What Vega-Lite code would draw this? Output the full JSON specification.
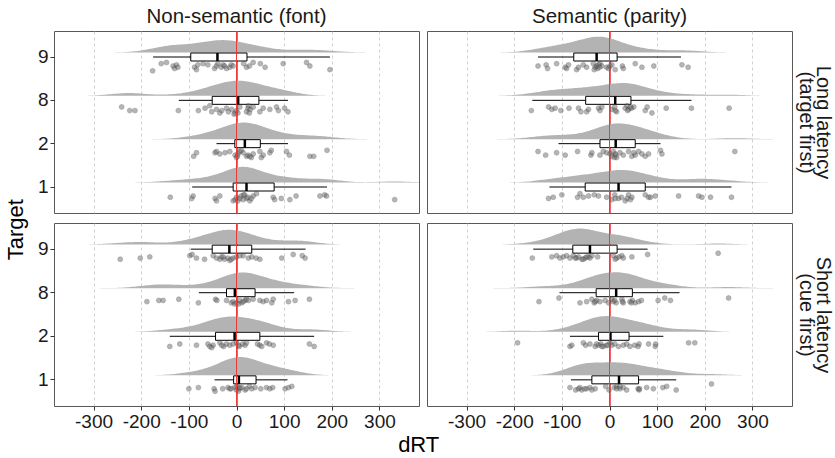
{
"$schema": "https://vega.github.io/schema/vega-lite/v6.json",
"padding": {"left": 4, "top": 6, "right": 0, "bottom": 0},
"config": {
  "font": "Liberation Sans",
  "view": {"stroke": "#595959", "strokeWidth": 1},
  "axisX": {"values": [-300,-200,-100,0,100,200,300], "grid": true, "gridDash": [3,3], "gridColor": "#c4c4c4", "gridWidth": 0.8, "domain": false, "tickColor": "#333333", "tickSize": 4, "labelFontSize": 19, "labelColor": "#1a1a1a", "labelPadding": 2},
  "axisY": {"grid": false, "domain": false, "tickColor": "#333333", "tickSize": 4, "labelFontSize": 19, "labelColor": "#1a1a1a", "labelPadding": 2, "labelAngle": 0},
  "title": {"fontSize": 20.5, "fontWeight": "normal", "color": "#1a1a1a", "offset": 4, "frame": "group"}
},
"data": {"values": [
{"t":"N","l":"L","g":9,"q1":-96,"md":-40,"q3":22,"lo":-175,"hi":196},
{"t":"N","l":"L","g":8,"q1":-51,"md":3.5,"q3":47,"lo":-121,"hi":108},
{"t":"N","l":"L","g":2,"q1":-3.5,"md":17.5,"q3":50,"lo":-42,"hi":108},
{"t":"N","l":"L","g":1,"q1":-7,"md":21,"q3":79,"lo":-93,"hi":190},
{"t":"S","l":"L","g":9,"q1":-75,"md":-27,"q3":16,"lo":-150,"hi":150},
{"t":"S","l":"L","g":8,"q1":-50,"md":12,"q3":45,"lo":-162,"hi":172},
{"t":"S","l":"L","g":2,"q1":-20,"md":13,"q3":54,"lo":-107,"hi":107},
{"t":"S","l":"L","g":1,"q1":-51,"md":19,"q3":75,"lo":-126,"hi":256},
{"t":"N","l":"S","g":9,"q1":-51,"md":-15,"q3":32,"lo":-96,"hi":145},
{"t":"N","l":"S","g":8,"q1":-21,"md":-3.5,"q3":39,"lo":-79,"hi":121},
{"t":"N","l":"S","g":2,"q1":-44,"md":-4,"q3":49,"lo":-140,"hi":163},
{"t":"N","l":"S","g":1,"q1":-6,"md":5,"q3":41,"lo":-46,"hi":107},
{"t":"S","l":"S","g":9,"q1":-77,"md":-41,"q3":16,"lo":-160,"hi":80},
{"t":"S","l":"S","g":8,"q1":-28,"md":14,"q3":48,"lo":-105,"hi":147},
{"t":"S","l":"S","g":2,"q1":-23,"md":2,"q3":41,"lo":-83,"hi":113},
{"t":"S","l":"S","g":1,"q1":-37,"md":20,"q3":61,"lo":-81,"hi":140},

{"t":"N","l":"L","g":9,"v":-176,"j":0.9},{"t":"N","l":"L","g":9,"v":-158,"j":0.3},{"t":"N","l":"L","g":9,"v":-147,"j":0.2},{"t":"N","l":"L","g":9,"v":-133,"j":0.5},{"t":"N","l":"L","g":9,"v":-130,"j":0.7},{"t":"N","l":"L","g":9,"v":-126,"j":0.4},{"t":"N","l":"L","g":9,"v":-123,"j":0.6},{"t":"N","l":"L","g":9,"v":-88,"j":0.6},{"t":"N","l":"L","g":9,"v":-84,"j":0.8},{"t":"N","l":"L","g":9,"v":-81,"j":0.4},{"t":"N","l":"L","g":9,"v":-70,"j":0.3},{"t":"N","l":"L","g":9,"v":-60,"j":0.4},{"t":"N","l":"L","g":9,"v":-46,"j":0.7},{"t":"N","l":"L","g":9,"v":-42,"j":0.5},{"t":"N","l":"L","g":9,"v":-39,"j":0.3},{"t":"N","l":"L","g":9,"v":-32,"j":0.6},{"t":"N","l":"L","g":9,"v":-28,"j":0.4},{"t":"N","l":"L","g":9,"v":-25,"j":0.5},{"t":"N","l":"L","g":9,"v":-21,"j":0.7},{"t":"N","l":"L","g":9,"v":-14,"j":0.6},{"t":"N","l":"L","g":9,"v":-11,"j":0.4},{"t":"N","l":"L","g":9,"v":-7,"j":0.5},{"t":"N","l":"L","g":9,"v":15,"j":0.3},{"t":"N","l":"L","g":9,"v":21,"j":0.6},{"t":"N","l":"L","g":9,"v":27,"j":0.5},{"t":"N","l":"L","g":9,"v":35,"j":0.2},{"t":"N","l":"L","g":9,"v":50,"j":0.3},{"t":"N","l":"L","g":9,"v":60,"j":0.6},{"t":"N","l":"L","g":9,"v":98,"j":0.3},{"t":"N","l":"L","g":9,"v":147,"j":0.2},{"t":"N","l":"L","g":9,"v":154,"j":0.5},{"t":"N","l":"L","g":9,"v":196,"j":0.8},
{"t":"N","l":"L","g":8,"v":-241,"j":0.3},{"t":"N","l":"L","g":8,"v":-224,"j":0.6},{"t":"N","l":"L","g":8,"v":-213,"j":0.6},{"t":"N","l":"L","g":8,"v":-122,"j":0.6},{"t":"N","l":"L","g":8,"v":-80,"j":0.6},{"t":"N","l":"L","g":8,"v":-66,"j":0.4},{"t":"N","l":"L","g":8,"v":-56,"j":0.2},{"t":"N","l":"L","g":8,"v":-52,"j":0.7},{"t":"N","l":"L","g":8,"v":-42,"j":0.5},{"t":"N","l":"L","g":8,"v":-35,"j":0.8},{"t":"N","l":"L","g":8,"v":-21,"j":0.4},{"t":"N","l":"L","g":8,"v":-17,"j":0.7},{"t":"N","l":"L","g":8,"v":-10,"j":0.5},{"t":"N","l":"L","g":8,"v":-3,"j":0.8},{"t":"N","l":"L","g":8,"v":0,"j":0.6},{"t":"N","l":"L","g":8,"v":3,"j":0.8},{"t":"N","l":"L","g":8,"v":7,"j":0.3},{"t":"N","l":"L","g":8,"v":21,"j":0.7},{"t":"N","l":"L","g":8,"v":24,"j":0.4},{"t":"N","l":"L","g":8,"v":27,"j":0.8},{"t":"N","l":"L","g":8,"v":29,"j":0.5},{"t":"N","l":"L","g":8,"v":35,"j":0.3},{"t":"N","l":"L","g":8,"v":49,"j":0.7},{"t":"N","l":"L","g":8,"v":56,"j":0.4},{"t":"N","l":"L","g":8,"v":70,"j":0.5},{"t":"N","l":"L","g":8,"v":84,"j":0.3},{"t":"N","l":"L","g":8,"v":88,"j":0.6},{"t":"N","l":"L","g":8,"v":101,"j":0.4},{"t":"N","l":"L","g":8,"v":108,"j":0.7},{"t":"N","l":"L","g":8,"v":-31,"j":0.6},{"t":"N","l":"L","g":8,"v":-5,"j":0.9},{"t":"N","l":"L","g":8,"v":25,"j":0.2},
{"t":"N","l":"L","g":2,"v":-90,"j":0.8},{"t":"N","l":"L","g":2,"v":-84,"j":0.5},{"t":"N","l":"L","g":2,"v":-45,"j":0.5},{"t":"N","l":"L","g":2,"v":-42,"j":0.4},{"t":"N","l":"L","g":2,"v":-35,"j":0.6},{"t":"N","l":"L","g":2,"v":-24,"j":0.5},{"t":"N","l":"L","g":2,"v":-14,"j":0.4},{"t":"N","l":"L","g":2,"v":-3,"j":0.7},{"t":"N","l":"L","g":2,"v":0,"j":0.9},{"t":"N","l":"L","g":2,"v":3,"j":0.6},{"t":"N","l":"L","g":2,"v":7,"j":0.4},{"t":"N","l":"L","g":2,"v":14,"j":0.5},{"t":"N","l":"L","g":2,"v":21,"j":0.8},{"t":"N","l":"L","g":2,"v":24,"j":0.7},{"t":"N","l":"L","g":2,"v":31,"j":0.9},{"t":"N","l":"L","g":2,"v":35,"j":0.6},{"t":"N","l":"L","g":2,"v":49,"j":0.4},{"t":"N","l":"L","g":2,"v":52,"j":0.9},{"t":"N","l":"L","g":2,"v":56,"j":0.7},{"t":"N","l":"L","g":2,"v":70,"j":0.5},{"t":"N","l":"L","g":2,"v":73,"j":0.3},{"t":"N","l":"L","g":2,"v":105,"j":0.4},{"t":"N","l":"L","g":2,"v":111,"j":0.7},{"t":"N","l":"L","g":2,"v":154,"j":0.8},{"t":"N","l":"L","g":2,"v":162,"j":0.8},{"t":"N","l":"L","g":2,"v":190,"j":0.3},{"t":"N","l":"L","g":2,"v":2,"j":0.8},{"t":"N","l":"L","g":2,"v":10,"j":0.3},{"t":"N","l":"L","g":2,"v":28,"j":0.8},
{"t":"N","l":"L","g":1,"v":-139,"j":0.6},{"t":"N","l":"L","g":1,"v":-94,"j":0.7},{"t":"N","l":"L","g":1,"v":-91,"j":0.5},{"t":"N","l":"L","g":1,"v":-45,"j":0.7},{"t":"N","l":"L","g":1,"v":-42,"j":0.9},{"t":"N","l":"L","g":1,"v":-35,"j":0.5},{"t":"N","l":"L","g":1,"v":-7,"j":0.9},{"t":"N","l":"L","g":1,"v":-3,"j":0.8},{"t":"N","l":"L","g":1,"v":0,"j":0.6},{"t":"N","l":"L","g":1,"v":3,"j":0.9},{"t":"N","l":"L","g":1,"v":7,"j":0.7},{"t":"N","l":"L","g":1,"v":10,"j":0.5},{"t":"N","l":"L","g":1,"v":17,"j":0.4},{"t":"N","l":"L","g":1,"v":21,"j":0.7},{"t":"N","l":"L","g":1,"v":24,"j":0.6},{"t":"N","l":"L","g":1,"v":28,"j":0.9},{"t":"N","l":"L","g":1,"v":35,"j":0.5},{"t":"N","l":"L","g":1,"v":42,"j":0.3},{"t":"N","l":"L","g":1,"v":77,"j":0.6},{"t":"N","l":"L","g":1,"v":80,"j":0.8},{"t":"N","l":"L","g":1,"v":94,"j":0.7},{"t":"N","l":"L","g":1,"v":112,"j":0.8},{"t":"N","l":"L","g":1,"v":125,"j":0.5},{"t":"N","l":"L","g":1,"v":175,"j":0.5},{"t":"N","l":"L","g":1,"v":185,"j":0.4},{"t":"N","l":"L","g":1,"v":189,"j":0.5},{"t":"N","l":"L","g":1,"v":332,"j":0.8},{"t":"N","l":"L","g":1,"v":14,"j":0.8},{"t":"N","l":"L","g":1,"v":15,"j":0.4},{"t":"N","l":"L","g":1,"v":31,"j":0.7},

{"t":"S","l":"L","g":9,"v":-150,"j":0.5},{"t":"S","l":"L","g":9,"v":-133,"j":0.4},{"t":"S","l":"L","g":9,"v":-130,"j":0.7},{"t":"S","l":"L","g":9,"v":-111,"j":0.3},{"t":"S","l":"L","g":9,"v":-93,"j":0.6},{"t":"S","l":"L","g":9,"v":-90,"j":0.7},{"t":"S","l":"L","g":9,"v":-86,"j":0.4},{"t":"S","l":"L","g":9,"v":-69,"j":0.8},{"t":"S","l":"L","g":9,"v":-65,"j":0.6},{"t":"S","l":"L","g":9,"v":-55,"j":0.4},{"t":"S","l":"L","g":9,"v":-48,"j":0.6},{"t":"S","l":"L","g":9,"v":-34,"j":0.3},{"t":"S","l":"L","g":9,"v":-30,"j":0.6},{"t":"S","l":"L","g":9,"v":-27,"j":0.5},{"t":"S","l":"L","g":9,"v":-25,"j":0.7},{"t":"S","l":"L","g":9,"v":-20,"j":0.3},{"t":"S","l":"L","g":9,"v":-16,"j":0.5},{"t":"S","l":"L","g":9,"v":-6,"j":0.6},{"t":"S","l":"L","g":9,"v":-2,"j":0.7},{"t":"S","l":"L","g":9,"v":1,"j":0.5},{"t":"S","l":"L","g":9,"v":5,"j":0.4},{"t":"S","l":"L","g":9,"v":12,"j":0.8},{"t":"S","l":"L","g":9,"v":27,"j":0.5},{"t":"S","l":"L","g":9,"v":54,"j":0.3},{"t":"S","l":"L","g":9,"v":68,"j":0.6},{"t":"S","l":"L","g":9,"v":93,"j":0.5},{"t":"S","l":"L","g":9,"v":152,"j":0.4},{"t":"S","l":"L","g":9,"v":165,"j":0.6},{"t":"S","l":"L","g":9,"v":-32,"j":0.8},{"t":"S","l":"L","g":9,"v":-23,"j":0.4},{"t":"S","l":"L","g":9,"v":-21,"j":0.6},{"t":"S","l":"L","g":9,"v":29,"j":0.7},
{"t":"S","l":"L","g":8,"v":-164,"j":0.6},{"t":"S","l":"L","g":8,"v":-128,"j":0.3},{"t":"S","l":"L","g":8,"v":-121,"j":0.5},{"t":"S","l":"L","g":8,"v":-114,"j":0.4},{"t":"S","l":"L","g":8,"v":-102,"j":0.6},{"t":"S","l":"L","g":8,"v":-85,"j":0.4},{"t":"S","l":"L","g":8,"v":-65,"j":0.4},{"t":"S","l":"L","g":8,"v":-60,"j":0.7},{"t":"S","l":"L","g":8,"v":-48,"j":0.7},{"t":"S","l":"L","g":8,"v":-44,"j":0.5},{"t":"S","l":"L","g":8,"v":-23,"j":0.4},{"t":"S","l":"L","g":8,"v":-20,"j":0.6},{"t":"S","l":"L","g":8,"v":-16,"j":0.3},{"t":"S","l":"L","g":8,"v":5,"j":0.5},{"t":"S","l":"L","g":8,"v":11,"j":0.3},{"t":"S","l":"L","g":8,"v":15,"j":0.7},{"t":"S","l":"L","g":8,"v":33,"j":0.4},{"t":"S","l":"L","g":8,"v":37,"j":0.2},{"t":"S","l":"L","g":8,"v":40,"j":0.5},{"t":"S","l":"L","g":8,"v":46,"j":0.4},{"t":"S","l":"L","g":8,"v":51,"j":0.3},{"t":"S","l":"L","g":8,"v":75,"j":0.6},{"t":"S","l":"L","g":8,"v":79,"j":0.3},{"t":"S","l":"L","g":8,"v":89,"j":0.8},{"t":"S","l":"L","g":8,"v":119,"j":0.4},{"t":"S","l":"L","g":8,"v":172,"j":0.4},{"t":"S","l":"L","g":8,"v":251,"j":0.4},{"t":"S","l":"L","g":8,"v":12,"j":0.6},{"t":"S","l":"L","g":8,"v":38,"j":0.6},{"t":"S","l":"L","g":8,"v":44,"j":0.3},
{"t":"S","l":"L","g":2,"v":-150,"j":0.4},{"t":"S","l":"L","g":2,"v":-134,"j":0.7},{"t":"S","l":"L","g":2,"v":-111,"j":0.5},{"t":"S","l":"L","g":2,"v":-93,"j":0.7},{"t":"S","l":"L","g":2,"v":-67,"j":0.4},{"t":"S","l":"L","g":2,"v":-39,"j":0.7},{"t":"S","l":"L","g":2,"v":-37,"j":0.5},{"t":"S","l":"L","g":2,"v":-20,"j":0.7},{"t":"S","l":"L","g":2,"v":-13,"j":0.4},{"t":"S","l":"L","g":2,"v":-6,"j":0.5},{"t":"S","l":"L","g":2,"v":1,"j":0.6},{"t":"S","l":"L","g":2,"v":5,"j":0.8},{"t":"S","l":"L","g":2,"v":8,"j":0.4},{"t":"S","l":"L","g":2,"v":12,"j":0.6},{"t":"S","l":"L","g":2,"v":15,"j":0.9},{"t":"S","l":"L","g":2,"v":22,"j":0.5},{"t":"S","l":"L","g":2,"v":29,"j":0.7},{"t":"S","l":"L","g":2,"v":40,"j":0.4},{"t":"S","l":"L","g":2,"v":47,"j":0.8},{"t":"S","l":"L","g":2,"v":54,"j":0.7},{"t":"S","l":"L","g":2,"v":61,"j":0.4},{"t":"S","l":"L","g":2,"v":68,"j":0.6},{"t":"S","l":"L","g":2,"v":75,"j":0.8},{"t":"S","l":"L","g":2,"v":82,"j":0.6},{"t":"S","l":"L","g":2,"v":107,"j":0.3},{"t":"S","l":"L","g":2,"v":110,"j":0.6},{"t":"S","l":"L","g":2,"v":263,"j":0.4},{"t":"S","l":"L","g":2,"v":10,"j":0.9},{"t":"S","l":"L","g":2,"v":13,"j":0.7},{"t":"S","l":"L","g":2,"v":51,"j":0.5},
{"t":"S","l":"L","g":1,"v":-128,"j":0.7},{"t":"S","l":"L","g":1,"v":-118,"j":0.6},{"t":"S","l":"L","g":1,"v":-100,"j":0.4},{"t":"S","l":"L","g":1,"v":-67,"j":0.6},{"t":"S","l":"L","g":1,"v":-62,"j":0.3},{"t":"S","l":"L","g":1,"v":-55,"j":0.6},{"t":"S","l":"L","g":1,"v":-44,"j":0.5},{"t":"S","l":"L","g":1,"v":-32,"j":0.4},{"t":"S","l":"L","g":1,"v":-23,"j":0.5},{"t":"S","l":"L","g":1,"v":-6,"j":0.6},{"t":"S","l":"L","g":1,"v":5,"j":0.8},{"t":"S","l":"L","g":1,"v":11,"j":0.4},{"t":"S","l":"L","g":1,"v":19,"j":0.7},{"t":"S","l":"L","g":1,"v":25,"j":0.6},{"t":"S","l":"L","g":1,"v":33,"j":0.9},{"t":"S","l":"L","g":1,"v":40,"j":0.4},{"t":"S","l":"L","g":1,"v":47,"j":0.6},{"t":"S","l":"L","g":1,"v":75,"j":0.4},{"t":"S","l":"L","g":1,"v":82,"j":0.6},{"t":"S","l":"L","g":1,"v":96,"j":0.5},{"t":"S","l":"L","g":1,"v":145,"j":0.5},{"t":"S","l":"L","g":1,"v":187,"j":0.5},{"t":"S","l":"L","g":1,"v":194,"j":0.6},{"t":"S","l":"L","g":1,"v":212,"j":0.6},{"t":"S","l":"L","g":1,"v":256,"j":0.6},{"t":"S","l":"L","g":1,"v":12,"j":0.7},{"t":"S","l":"L","g":1,"v":37,"j":0.7},{"t":"S","l":"L","g":1,"v":44,"j":0.8},{"t":"S","l":"L","g":1,"v":86,"j":0.6},

{"t":"N","l":"S","g":9,"v":-244,"j":0.6},{"t":"N","l":"S","g":9,"v":-202,"j":0.5},{"t":"N","l":"S","g":9,"v":-182,"j":0.4},{"t":"N","l":"S","g":9,"v":-98,"j":0.3},{"t":"N","l":"S","g":9,"v":-93,"j":0.2},{"t":"N","l":"S","g":9,"v":-84,"j":0.5},{"t":"N","l":"S","g":9,"v":-67,"j":0.6},{"t":"N","l":"S","g":9,"v":-49,"j":0.3},{"t":"N","l":"S","g":9,"v":-42,"j":0.5},{"t":"N","l":"S","g":9,"v":-32,"j":0.4},{"t":"N","l":"S","g":9,"v":-25,"j":0.6},{"t":"N","l":"S","g":9,"v":-18,"j":0.5},{"t":"N","l":"S","g":9,"v":-14,"j":0.7},{"t":"N","l":"S","g":9,"v":-7,"j":0.5},{"t":"N","l":"S","g":9,"v":0,"j":0.4},{"t":"N","l":"S","g":9,"v":14,"j":0.3},{"t":"N","l":"S","g":9,"v":25,"j":0.5},{"t":"N","l":"S","g":9,"v":32,"j":0.4},{"t":"N","l":"S","g":9,"v":41,"j":0.5},{"t":"N","l":"S","g":9,"v":49,"j":0.6},{"t":"N","l":"S","g":9,"v":95,"j":0.5},{"t":"N","l":"S","g":9,"v":119,"j":0.2},{"t":"N","l":"S","g":9,"v":138,"j":0.3},{"t":"N","l":"S","g":9,"v":144,"j":0.5},{"t":"N","l":"S","g":9,"v":-35,"j":0.6},{"t":"N","l":"S","g":9,"v":-28,"j":0.4},{"t":"N","l":"S","g":9,"v":-11,"j":0.6},{"t":"N","l":"S","g":9,"v":7,"j":0.3},
{"t":"N","l":"S","g":8,"v":-188,"j":0.5},{"t":"N","l":"S","g":8,"v":-163,"j":0.4},{"t":"N","l":"S","g":8,"v":-154,"j":0.4},{"t":"N","l":"S","g":8,"v":-121,"j":0.3},{"t":"N","l":"S","g":8,"v":-80,"j":0.6},{"t":"N","l":"S","g":8,"v":-44,"j":0.3},{"t":"N","l":"S","g":8,"v":-41,"j":0.4},{"t":"N","l":"S","g":8,"v":-21,"j":0.4},{"t":"N","l":"S","g":8,"v":-11,"j":0.6},{"t":"N","l":"S","g":8,"v":-7,"j":0.5},{"t":"N","l":"S","g":8,"v":-4,"j":0.7},{"t":"N","l":"S","g":8,"v":0,"j":0.6},{"t":"N","l":"S","g":8,"v":7,"j":0.4},{"t":"N","l":"S","g":8,"v":11,"j":0.6},{"t":"N","l":"S","g":8,"v":18,"j":0.4},{"t":"N","l":"S","g":8,"v":21,"j":0.3},{"t":"N","l":"S","g":8,"v":35,"j":0.3},{"t":"N","l":"S","g":8,"v":49,"j":0.4},{"t":"N","l":"S","g":8,"v":56,"j":0.5},{"t":"N","l":"S","g":8,"v":63,"j":0.4},{"t":"N","l":"S","g":8,"v":74,"j":0.6},{"t":"N","l":"S","g":8,"v":77,"j":0.3},{"t":"N","l":"S","g":8,"v":109,"j":0.5},{"t":"N","l":"S","g":8,"v":123,"j":0.4},{"t":"N","l":"S","g":8,"v":153,"j":0.3},{"t":"N","l":"S","g":8,"v":4,"j":0.7},{"t":"N","l":"S","g":8,"v":14,"j":0.5},{"t":"N","l":"S","g":8,"v":25,"j":0.4},
{"t":"N","l":"S","g":2,"v":-140,"j":0.6},{"t":"N","l":"S","g":2,"v":-119,"j":0.4},{"t":"N","l":"S","g":2,"v":-84,"j":0.5},{"t":"N","l":"S","g":2,"v":-60,"j":0.4},{"t":"N","l":"S","g":2,"v":-56,"j":0.6},{"t":"N","l":"S","g":2,"v":-49,"j":0.5},{"t":"N","l":"S","g":2,"v":-35,"j":0.3},{"t":"N","l":"S","g":2,"v":-27,"j":0.6},{"t":"N","l":"S","g":2,"v":-21,"j":0.4},{"t":"N","l":"S","g":2,"v":-14,"j":0.5},{"t":"N","l":"S","g":2,"v":-7,"j":0.4},{"t":"N","l":"S","g":2,"v":0,"j":0.3},{"t":"N","l":"S","g":2,"v":6,"j":0.6},{"t":"N","l":"S","g":2,"v":13,"j":0.4},{"t":"N","l":"S","g":2,"v":18,"j":0.5},{"t":"N","l":"S","g":2,"v":21,"j":0.3},{"t":"N","l":"S","g":2,"v":44,"j":0.4},{"t":"N","l":"S","g":2,"v":49,"j":0.5},{"t":"N","l":"S","g":2,"v":63,"j":0.3},{"t":"N","l":"S","g":2,"v":69,"j":0.4},{"t":"N","l":"S","g":2,"v":77,"j":0.5},{"t":"N","l":"S","g":2,"v":153,"j":0.4},{"t":"N","l":"S","g":2,"v":163,"j":0.6},{"t":"N","l":"S","g":2,"v":-52,"j":0.7},{"t":"N","l":"S","g":2,"v":-31,"j":0.5},{"t":"N","l":"S","g":2,"v":4,"j":0.5},{"t":"N","l":"S","g":2,"v":53,"j":0.6},
{"t":"N","l":"S","g":1,"v":-100,"j":0.5},{"t":"N","l":"S","g":1,"v":-80,"j":0.4},{"t":"N","l":"S","g":1,"v":-47,"j":0.5},{"t":"N","l":"S","g":1,"v":-45,"j":0.7},{"t":"N","l":"S","g":1,"v":-29,"j":0.5},{"t":"N","l":"S","g":1,"v":-18,"j":0.4},{"t":"N","l":"S","g":1,"v":-14,"j":0.5},{"t":"N","l":"S","g":1,"v":-4,"j":0.4},{"t":"N","l":"S","g":1,"v":0,"j":0.6},{"t":"N","l":"S","g":1,"v":1,"j":0.3},{"t":"N","l":"S","g":1,"v":6,"j":0.5},{"t":"N","l":"S","g":1,"v":11,"j":0.4},{"t":"N","l":"S","g":1,"v":18,"j":0.6},{"t":"N","l":"S","g":1,"v":27,"j":0.3},{"t":"N","l":"S","g":1,"v":32,"j":0.5},{"t":"N","l":"S","g":1,"v":39,"j":0.4},{"t":"N","l":"S","g":1,"v":51,"j":0.5},{"t":"N","l":"S","g":1,"v":63,"j":0.4},{"t":"N","l":"S","g":1,"v":70,"j":0.5},{"t":"N","l":"S","g":1,"v":76,"j":0.4},{"t":"N","l":"S","g":1,"v":102,"j":0.5},{"t":"N","l":"S","g":1,"v":109,"j":0.4},{"t":"N","l":"S","g":1,"v":116,"j":0.3},{"t":"N","l":"S","g":1,"v":-11,"j":0.5},{"t":"N","l":"S","g":1,"v":4,"j":0.7},{"t":"N","l":"S","g":1,"v":7,"j":0.4},{"t":"N","l":"S","g":1,"v":21,"j":0.5},

{"t":"S","l":"S","g":9,"v":-162,"j":0.5},{"t":"S","l":"S","g":9,"v":-121,"j":0.4},{"t":"S","l":"S","g":9,"v":-111,"j":0.3},{"t":"S","l":"S","g":9,"v":-104,"j":0.5},{"t":"S","l":"S","g":9,"v":-97,"j":0.4},{"t":"S","l":"S","g":9,"v":-90,"j":0.3},{"t":"S","l":"S","g":9,"v":-83,"j":0.5},{"t":"S","l":"S","g":9,"v":-76,"j":0.3},{"t":"S","l":"S","g":9,"v":-69,"j":0.5},{"t":"S","l":"S","g":9,"v":-65,"j":0.4},{"t":"S","l":"S","g":9,"v":-58,"j":0.6},{"t":"S","l":"S","g":9,"v":-51,"j":0.5},{"t":"S","l":"S","g":9,"v":-44,"j":0.4},{"t":"S","l":"S","g":9,"v":-37,"j":0.3},{"t":"S","l":"S","g":9,"v":-25,"j":0.4},{"t":"S","l":"S","g":9,"v":8,"j":0.3},{"t":"S","l":"S","g":9,"v":15,"j":0.5},{"t":"S","l":"S","g":9,"v":20,"j":0.4},{"t":"S","l":"S","g":9,"v":26,"j":0.3},{"t":"S","l":"S","g":9,"v":29,"j":0.5},{"t":"S","l":"S","g":9,"v":47,"j":0.4},{"t":"S","l":"S","g":9,"v":80,"j":0.2},{"t":"S","l":"S","g":9,"v":228,"j":0.1},{"t":"S","l":"S","g":9,"v":-72,"j":0.5},{"t":"S","l":"S","g":9,"v":-55,"j":0.6},{"t":"S","l":"S","g":9,"v":-48,"j":0.4},{"t":"S","l":"S","g":9,"v":-41,"j":0.5},{"t":"S","l":"S","g":9,"v":12,"j":0.6},
{"t":"S","l":"S","g":8,"v":-148,"j":0.5},{"t":"S","l":"S","g":8,"v":-106,"j":0.2},{"t":"S","l":"S","g":8,"v":-62,"j":0.6},{"t":"S","l":"S","g":8,"v":-48,"j":0.5},{"t":"S","l":"S","g":8,"v":-37,"j":0.3},{"t":"S","l":"S","g":8,"v":-32,"j":0.6},{"t":"S","l":"S","g":8,"v":-27,"j":0.4},{"t":"S","l":"S","g":8,"v":-20,"j":0.5},{"t":"S","l":"S","g":8,"v":-9,"j":0.4},{"t":"S","l":"S","g":8,"v":-2,"j":0.6},{"t":"S","l":"S","g":8,"v":5,"j":0.3},{"t":"S","l":"S","g":8,"v":8,"j":0.5},{"t":"S","l":"S","g":8,"v":14,"j":0.6},{"t":"S","l":"S","g":8,"v":26,"j":0.3},{"t":"S","l":"S","g":8,"v":29,"j":0.6},{"t":"S","l":"S","g":8,"v":43,"j":0.5},{"t":"S","l":"S","g":8,"v":48,"j":0.4},{"t":"S","l":"S","g":8,"v":54,"j":0.6},{"t":"S","l":"S","g":8,"v":61,"j":0.5},{"t":"S","l":"S","g":8,"v":67,"j":0.4},{"t":"S","l":"S","g":8,"v":102,"j":0.4},{"t":"S","l":"S","g":8,"v":116,"j":0.2},{"t":"S","l":"S","g":8,"v":128,"j":0.4},{"t":"S","l":"S","g":8,"v":250,"j":0.2},{"t":"S","l":"S","g":8,"v":-30,"j":0.5},{"t":"S","l":"S","g":8,"v":11,"j":0.4},{"t":"S","l":"S","g":8,"v":27,"j":0.5},{"t":"S","l":"S","g":8,"v":46,"j":0.6},
{"t":"S","l":"S","g":2,"v":-193,"j":0.3},{"t":"S","l":"S","g":2,"v":-83,"j":0.6},{"t":"S","l":"S","g":2,"v":-79,"j":0.5},{"t":"S","l":"S","g":2,"v":-55,"j":0.3},{"t":"S","l":"S","g":2,"v":-50,"j":0.5},{"t":"S","l":"S","g":2,"v":-41,"j":0.4},{"t":"S","l":"S","g":2,"v":-30,"j":0.6},{"t":"S","l":"S","g":2,"v":-23,"j":0.5},{"t":"S","l":"S","g":2,"v":-18,"j":0.4},{"t":"S","l":"S","g":2,"v":-13,"j":0.6},{"t":"S","l":"S","g":2,"v":-6,"j":0.5},{"t":"S","l":"S","g":2,"v":1,"j":0.3},{"t":"S","l":"S","g":2,"v":5,"j":0.5},{"t":"S","l":"S","g":2,"v":11,"j":0.4},{"t":"S","l":"S","g":2,"v":19,"j":0.6},{"t":"S","l":"S","g":2,"v":29,"j":0.5},{"t":"S","l":"S","g":2,"v":36,"j":0.4},{"t":"S","l":"S","g":2,"v":43,"j":0.6},{"t":"S","l":"S","g":2,"v":53,"j":0.5},{"t":"S","l":"S","g":2,"v":62,"j":0.4},{"t":"S","l":"S","g":2,"v":82,"j":0.4},{"t":"S","l":"S","g":2,"v":96,"j":0.6},{"t":"S","l":"S","g":2,"v":166,"j":0.3},{"t":"S","l":"S","g":2,"v":179,"j":0.3},{"t":"S","l":"S","g":2,"v":-27,"j":0.4},{"t":"S","l":"S","g":2,"v":-16,"j":0.6},{"t":"S","l":"S","g":2,"v":-4,"j":0.5},{"t":"S","l":"S","g":2,"v":60,"j":0.6},{"t":"S","l":"S","g":2,"v":97,"j":0.4},
{"t":"S","l":"S","g":1,"v":-83,"j":0.4},{"t":"S","l":"S","g":1,"v":-71,"j":0.6},{"t":"S","l":"S","g":1,"v":-65,"j":0.5},{"t":"S","l":"S","g":1,"v":-58,"j":0.6},{"t":"S","l":"S","g":1,"v":-48,"j":0.5},{"t":"S","l":"S","g":1,"v":-41,"j":0.4},{"t":"S","l":"S","g":1,"v":-30,"j":0.5},{"t":"S","l":"S","g":1,"v":-8,"j":0.3},{"t":"S","l":"S","g":1,"v":-1,"j":0.6},{"t":"S","l":"S","g":1,"v":10,"j":0.4},{"t":"S","l":"S","g":1,"v":15,"j":0.3},{"t":"S","l":"S","g":1,"v":22,"j":0.5},{"t":"S","l":"S","g":1,"v":29,"j":0.4},{"t":"S","l":"S","g":1,"v":36,"j":0.6},{"t":"S","l":"S","g":1,"v":60,"j":0.5},{"t":"S","l":"S","g":1,"v":62,"j":0.6},{"t":"S","l":"S","g":1,"v":78,"j":0.4},{"t":"S","l":"S","g":1,"v":92,"j":0.5},{"t":"S","l":"S","g":1,"v":112,"j":0.4},{"t":"S","l":"S","g":1,"v":120,"j":0.3},{"t":"S","l":"S","g":1,"v":140,"j":0.6},{"t":"S","l":"S","g":1,"v":214,"j":0.1},{"t":"S","l":"S","g":1,"v":-62,"j":0.4},{"t":"S","l":"S","g":1,"v":-52,"j":0.5},{"t":"S","l":"S","g":1,"v":-37,"j":0.6},{"t":"S","l":"S","g":1,"v":15,"j":0.5},{"t":"S","l":"S","g":1,"v":22,"j":0.3},{"t":"S","l":"S","g":1,"v":63,"j":0.5}
]},
"title": {"text": "dRT", "orient": "bottom", "anchor": "middle", "fontSize": 22, "color": "#000000", "offset": 3, "frame": "bounds"},
"vconcat": [{
 "title": {"text": "Target", "orient": "left", "anchor": "middle", "angle": 270, "fontSize": 22, "color": "#000000", "offset": 9, "frame": "bounds", "dx": -11},
 "spacing": 8,
 "vconcat": [
  {"spacing": 6, "hconcat": [
   {"width": 365, "height": 182, "title": "Non-semantic (font)",
    "transform": [{"filter": "datum.t == 'N' && datum.l == 'L'"}],
    "resolve": {"scale": {"y": "independent"}},
    "layer": [
     {"transform": [{"filter": "isValid(datum.v) && datum.g == 9"}, {"density": "v", "bandwidth": 35, "extent": [-383, 383], "steps": 200}], "mark": {"type": "area", "color": "#b3b3b3", "clip": true},
      "encoding": {"x": {"field": "value", "type": "quantitative", "scale": {"domain": [-383, 383], "nice": false, "zero": false}, "axis": {"labels": false, "ticks": false, "gridColor": {"condition": {"test": "datum.value === 0", "value": "#f03a3a"}, "value": "#c4c4c4"}, "gridDash": {"condition": {"test": "datum.value === 0", "value": []}, "value": [3,3]}}, "title": null},
                   "y": {"field": "density", "type": "quantitative", "scale": {"domain": [-0.05944, 0.00796], "nice": false, "zero": false}, "axis": null}}},
     {"transform": [{"filter": "isValid(datum.v) && datum.g == 8"}, {"density": "v", "bandwidth": 35, "extent": [-383, 383], "steps": 200}], "mark": {"type": "area", "color": "#b3b3b3", "clip": true},
      "encoding": {"x": {"field": "value", "type": "quantitative", "title": null}, "y": {"field": "density", "type": "quantitative", "scale": {"domain": [-0.04341, 0.0240], "nice": false, "zero": false}, "axis": null}}},
     {"transform": [{"filter": "isValid(datum.v) && datum.g == 2"}, {"density": "v", "bandwidth": 35, "extent": [-383, 383], "steps": 200}], "mark": {"type": "area", "color": "#b3b3b3", "clip": true},
      "encoding": {"x": {"field": "value", "type": "quantitative", "title": null}, "y": {"field": "density", "type": "quantitative", "scale": {"domain": [-0.02733, 0.04007], "nice": false, "zero": false}, "axis": null}}},
     {"transform": [{"filter": "isValid(datum.v) && datum.g == 1"}, {"density": "v", "bandwidth": 35, "extent": [-383, 383], "steps": 200}], "mark": {"type": "area", "color": "#b3b3b3", "clip": true},
      "encoding": {"x": {"field": "value", "type": "quantitative", "title": null}, "y": {"field": "density", "type": "quantitative", "scale": {"domain": [-0.01130, 0.05611], "nice": false, "zero": false}, "axis": null}}},
     {"transform": [{"filter": "isValid(datum.md)"}], "mark": {"type": "rule", "color": "#000000", "strokeWidth": 1},
      "encoding": {"y": {"field": "g", "type": "ordinal", "scale": {"domain": [9,8,2,1], "paddingInner": 0, "paddingOuter": 0.1}, "title": null},
                   "x": {"field": "lo", "type": "quantitative", "title": null}, "x2": {"field": "hi"}}},
     {"transform": [{"filter": "isValid(datum.md)"}], "mark": {"type": "bar", "fill": "#ffffff", "stroke": "#000000", "strokeWidth": 1, "height": 8},
      "encoding": {"y": {"field": "g", "type": "ordinal", "scale": {"domain": [9,8,2,1], "paddingInner": 0, "paddingOuter": 0.1}, "axis": null},
                   "x": {"field": "q1", "type": "quantitative", "title": null}, "x2": {"field": "q3"}}},
     {"transform": [{"filter": "isValid(datum.md)"}], "mark": {"type": "tick", "color": "#000000", "thickness": 2.5, "size": 8, "opacity": 1},
      "encoding": {"y": {"field": "g", "type": "ordinal", "scale": {"domain": [9,8,2,1], "paddingInner": 0, "paddingOuter": 0.1}, "axis": null},
                   "x": {"field": "md", "type": "quantitative", "title": null}}},
     {"transform": [{"filter": "isValid(datum.v)"}], "mark": {"type": "point", "filled": true, "size": 24, "color": "#6e6e6e", "opacity": 0.5, "stroke": "#333333", "strokeWidth": 0.6},
      "encoding": {"y": {"field": "g", "type": "ordinal", "scale": {"domain": [9,8,2,1], "paddingInner": 0, "paddingOuter": 0.1}, "axis": null},
                   "yOffset": {"field": "j", "type": "quantitative", "scale": {"domain": [-2.06, 1.55], "nice": false, "zero": false}},
                   "x": {"field": "v", "type": "quantitative", "title": null}}},
     {"data": {"values": [{"ref": 0}]}, "mark": {"type": "rect", "color": "#f03a3a"},
      "encoding": {"x": {"datum": -1.05, "type": "quantitative", "title": null}, "x2": {"datum": 1.05}}}
    ]},
   {"width": 365, "height": 182, "title": "Semantic (parity)",
    "transform": [{"filter": "datum.t == 'S' && datum.l == 'L'"}],
    "resolve": {"scale": {"y": "independent"}},
    "layer": [
     {"transform": [{"filter": "isValid(datum.v) && datum.g == 9"}, {"density": "v", "bandwidth": 35, "extent": [-383, 383], "steps": 200}], "mark": {"type": "area", "color": "#b3b3b3", "clip": true},
      "encoding": {"x": {"field": "value", "type": "quantitative", "scale": {"domain": [-383, 383], "nice": false, "zero": false}, "axis": {"labels": false, "ticks": false, "gridColor": {"condition": {"test": "datum.value === 0", "value": "#f03a3a"}, "value": "#c4c4c4"}, "gridDash": {"condition": {"test": "datum.value === 0", "value": []}, "value": [3,3]}}, "title": null},
                   "y": {"field": "density", "type": "quantitative", "scale": {"domain": [-0.05944, 0.00796], "nice": false, "zero": false},
                         "axis": {"orient": "right", "labels": false, "ticks": false, "domain": false, "grid": false, "title": ["Long latency", "(target first)"], "titleAngle": 90, "titleFontSize": 20, "titleFontWeight": "normal", "titleColor": "#1a1a1a", "titlePadding": 3, "titleLineHeight": 17}}}},
     {"transform": [{"filter": "isValid(datum.v) && datum.g == 8"}, {"density": "v", "bandwidth": 35, "extent": [-383, 383], "steps": 200}], "mark": {"type": "area", "color": "#b3b3b3", "clip": true},
      "encoding": {"x": {"field": "value", "type": "quantitative", "title": null}, "y": {"field": "density", "type": "quantitative", "scale": {"domain": [-0.04341, 0.0240], "nice": false, "zero": false}, "axis": null}}},
     {"transform": [{"filter": "isValid(datum.v) && datum.g == 2"}, {"density": "v", "bandwidth": 35, "extent": [-383, 383], "steps": 200}], "mark": {"type": "area", "color": "#b3b3b3", "clip": true},
      "encoding": {"x": {"field": "value", "type": "quantitative", "title": null}, "y": {"field": "density", "type": "quantitative", "scale": {"domain": [-0.02733, 0.04007], "nice": false, "zero": false}, "axis": null}}},
     {"transform": [{"filter": "isValid(datum.v) && datum.g == 1"}, {"density": "v", "bandwidth": 35, "extent": [-383, 383], "steps": 200}], "mark": {"type": "area", "color": "#b3b3b3", "clip": true},
      "encoding": {"x": {"field": "value", "type": "quantitative", "title": null}, "y": {"field": "density", "type": "quantitative", "scale": {"domain": [-0.01130, 0.05611], "nice": false, "zero": false}, "axis": null}}},
     {"transform": [{"filter": "isValid(datum.md)"}], "mark": {"type": "rule", "color": "#000000", "strokeWidth": 1},
      "encoding": {"y": {"field": "g", "type": "ordinal", "scale": {"domain": [9,8,2,1], "paddingInner": 0, "paddingOuter": 0.1}, "axis": null},
                   "x": {"field": "lo", "type": "quantitative", "title": null}, "x2": {"field": "hi"}}},
     {"transform": [{"filter": "isValid(datum.md)"}], "mark": {"type": "bar", "fill": "#ffffff", "stroke": "#000000", "strokeWidth": 1, "height": 8},
      "encoding": {"y": {"field": "g", "type": "ordinal", "scale": {"domain": [9,8,2,1], "paddingInner": 0, "paddingOuter": 0.1}, "axis": null},
                   "x": {"field": "q1", "type": "quantitative", "title": null}, "x2": {"field": "q3"}}},
     {"transform": [{"filter": "isValid(datum.md)"}], "mark": {"type": "tick", "color": "#000000", "thickness": 2.5, "size": 8, "opacity": 1},
      "encoding": {"y": {"field": "g", "type": "ordinal", "scale": {"domain": [9,8,2,1], "paddingInner": 0, "paddingOuter": 0.1}, "axis": null},
                   "x": {"field": "md", "type": "quantitative", "title": null}}},
     {"transform": [{"filter": "isValid(datum.v)"}], "mark": {"type": "point", "filled": true, "size": 24, "color": "#6e6e6e", "opacity": 0.5, "stroke": "#333333", "strokeWidth": 0.6},
      "encoding": {"y": {"field": "g", "type": "ordinal", "scale": {"domain": [9,8,2,1], "paddingInner": 0, "paddingOuter": 0.1}, "axis": null},
                   "yOffset": {"field": "j", "type": "quantitative", "scale": {"domain": [-2.06, 1.55], "nice": false, "zero": false}},
                   "x": {"field": "v", "type": "quantitative", "title": null}}},
     {"data": {"values": [{"ref": 0}]}, "mark": {"type": "rect", "color": "#f03a3a"},
      "encoding": {"x": {"datum": -1.05, "type": "quantitative", "title": null}, "x2": {"datum": 1.05}}}
    ]}
  ]},
  {"spacing": 6, "hconcat": [
   {"width": 365, "height": 183,
    "transform": [{"filter": "datum.t == 'N' && datum.l == 'S'"}],
    "resolve": {"scale": {"y": "independent"}},
    "layer": [
     {"transform": [{"filter": "isValid(datum.v) && datum.g == 9"}, {"density": "v", "bandwidth": 35, "extent": [-383, 383], "steps": 200}], "mark": {"type": "area", "color": "#b3b3b3", "clip": true},
      "encoding": {"x": {"field": "value", "type": "quantitative", "scale": {"domain": [-383, 383], "nice": false, "zero": false}, "axis": {"labelExpr": "toString(datum.value)", "gridColor": {"condition": {"test": "datum.value === 0", "value": "#f03a3a"}, "value": "#c4c4c4"}, "gridDash": {"condition": {"test": "datum.value === 0", "value": []}, "value": [3,3]}}, "title": null},
                   "y": {"field": "density", "type": "quantitative", "scale": {"domain": [-0.05944, 0.00796], "nice": false, "zero": false}, "axis": null}}},
     {"transform": [{"filter": "isValid(datum.v) && datum.g == 8"}, {"density": "v", "bandwidth": 35, "extent": [-383, 383], "steps": 200}], "mark": {"type": "area", "color": "#b3b3b3", "clip": true},
      "encoding": {"x": {"field": "value", "type": "quantitative", "title": null}, "y": {"field": "density", "type": "quantitative", "scale": {"domain": [-0.04341, 0.0240], "nice": false, "zero": false}, "axis": null}}},
     {"transform": [{"filter": "isValid(datum.v) && datum.g == 2"}, {"density": "v", "bandwidth": 35, "extent": [-383, 383], "steps": 200}], "mark": {"type": "area", "color": "#b3b3b3", "clip": true},
      "encoding": {"x": {"field": "value", "type": "quantitative", "title": null}, "y": {"field": "density", "type": "quantitative", "scale": {"domain": [-0.02733, 0.04007], "nice": false, "zero": false}, "axis": null}}},
     {"transform": [{"filter": "isValid(datum.v) && datum.g == 1"}, {"density": "v", "bandwidth": 35, "extent": [-383, 383], "steps": 200}], "mark": {"type": "area", "color": "#b3b3b3", "clip": true},
      "encoding": {"x": {"field": "value", "type": "quantitative", "title": null}, "y": {"field": "density", "type": "quantitative", "scale": {"domain": [-0.01130, 0.05611], "nice": false, "zero": false}, "axis": null}}},
     {"transform": [{"filter": "isValid(datum.md)"}], "mark": {"type": "rule", "color": "#000000", "strokeWidth": 1},
      "encoding": {"y": {"field": "g", "type": "ordinal", "scale": {"domain": [9,8,2,1], "paddingInner": 0, "paddingOuter": 0.1}, "title": null},
                   "x": {"field": "lo", "type": "quantitative", "title": null}, "x2": {"field": "hi"}}},
     {"transform": [{"filter": "isValid(datum.md)"}], "mark": {"type": "bar", "fill": "#ffffff", "stroke": "#000000", "strokeWidth": 1, "height": 8},
      "encoding": {"y": {"field": "g", "type": "ordinal", "scale": {"domain": [9,8,2,1], "paddingInner": 0, "paddingOuter": 0.1}, "axis": null},
                   "x": {"field": "q1", "type": "quantitative", "title": null}, "x2": {"field": "q3"}}},
     {"transform": [{"filter": "isValid(datum.md)"}], "mark": {"type": "tick", "color": "#000000", "thickness": 2.5, "size": 8, "opacity": 1},
      "encoding": {"y": {"field": "g", "type": "ordinal", "scale": {"domain": [9,8,2,1], "paddingInner": 0, "paddingOuter": 0.1}, "axis": null},
                   "x": {"field": "md", "type": "quantitative", "title": null}}},
     {"transform": [{"filter": "isValid(datum.v)"}], "mark": {"type": "point", "filled": true, "size": 24, "color": "#6e6e6e", "opacity": 0.5, "stroke": "#333333", "strokeWidth": 0.6},
      "encoding": {"y": {"field": "g", "type": "ordinal", "scale": {"domain": [9,8,2,1], "paddingInner": 0, "paddingOuter": 0.1}, "axis": null},
                   "yOffset": {"field": "j", "type": "quantitative", "scale": {"domain": [-2.06, 1.55], "nice": false, "zero": false}},
                   "x": {"field": "v", "type": "quantitative", "title": null}}},
     {"data": {"values": [{"ref": 0}]}, "mark": {"type": "rect", "color": "#f03a3a"},
      "encoding": {"x": {"datum": -1.05, "type": "quantitative", "title": null}, "x2": {"datum": 1.05}}}
    ]},
   {"width": 365, "height": 183,
    "transform": [{"filter": "datum.t == 'S' && datum.l == 'S'"}],
    "resolve": {"scale": {"y": "independent"}},
    "layer": [
     {"transform": [{"filter": "isValid(datum.v) && datum.g == 9"}, {"density": "v", "bandwidth": 35, "extent": [-383, 383], "steps": 200}], "mark": {"type": "area", "color": "#b3b3b3", "clip": true},
      "encoding": {"x": {"field": "value", "type": "quantitative", "scale": {"domain": [-383, 383], "nice": false, "zero": false}, "axis": {"labelExpr": "toString(datum.value)", "gridColor": {"condition": {"test": "datum.value === 0", "value": "#f03a3a"}, "value": "#c4c4c4"}, "gridDash": {"condition": {"test": "datum.value === 0", "value": []}, "value": [3,3]}}, "title": null},
                   "y": {"field": "density", "type": "quantitative", "scale": {"domain": [-0.05944, 0.00796], "nice": false, "zero": false},
                         "axis": {"orient": "right", "labels": false, "ticks": false, "domain": false, "grid": false, "title": ["Short latency", "(cue first)"], "titleAngle": 90, "titleFontSize": 20, "titleFontWeight": "normal", "titleColor": "#1a1a1a", "titlePadding": 3, "titleLineHeight": 17}}}},
     {"transform": [{"filter": "isValid(datum.v) && datum.g == 8"}, {"density": "v", "bandwidth": 35, "extent": [-383, 383], "steps": 200}], "mark": {"type": "area", "color": "#b3b3b3", "clip": true},
      "encoding": {"x": {"field": "value", "type": "quantitative", "title": null}, "y": {"field": "density", "type": "quantitative", "scale": {"domain": [-0.04341, 0.0240], "nice": false, "zero": false}, "axis": null}}},
     {"transform": [{"filter": "isValid(datum.v) && datum.g == 2"}, {"density": "v", "bandwidth": 35, "extent": [-383, 383], "steps": 200}], "mark": {"type": "area", "color": "#b3b3b3", "clip": true},
      "encoding": {"x": {"field": "value", "type": "quantitative", "title": null}, "y": {"field": "density", "type": "quantitative", "scale": {"domain": [-0.02733, 0.04007], "nice": false, "zero": false}, "axis": null}}},
     {"transform": [{"filter": "isValid(datum.v) && datum.g == 1"}, {"density": "v", "bandwidth": 35, "extent": [-383, 383], "steps": 200}], "mark": {"type": "area", "color": "#b3b3b3", "clip": true},
      "encoding": {"x": {"field": "value", "type": "quantitative", "title": null}, "y": {"field": "density", "type": "quantitative", "scale": {"domain": [-0.01130, 0.05611], "nice": false, "zero": false}, "axis": null}}},
     {"transform": [{"filter": "isValid(datum.md)"}], "mark": {"type": "rule", "color": "#000000", "strokeWidth": 1},
      "encoding": {"y": {"field": "g", "type": "ordinal", "scale": {"domain": [9,8,2,1], "paddingInner": 0, "paddingOuter": 0.1}, "axis": null},
                   "x": {"field": "lo", "type": "quantitative", "title": null}, "x2": {"field": "hi"}}},
     {"transform": [{"filter": "isValid(datum.md)"}], "mark": {"type": "bar", "fill": "#ffffff", "stroke": "#000000", "strokeWidth": 1, "height": 8},
      "encoding": {"y": {"field": "g", "type": "ordinal", "scale": {"domain": [9,8,2,1], "paddingInner": 0, "paddingOuter": 0.1}, "axis": null},
                   "x": {"field": "q1", "type": "quantitative", "title": null}, "x2": {"field": "q3"}}},
     {"transform": [{"filter": "isValid(datum.md)"}], "mark": {"type": "tick", "color": "#000000", "thickness": 2.5, "size": 8, "opacity": 1},
      "encoding": {"y": {"field": "g", "type": "ordinal", "scale": {"domain": [9,8,2,1], "paddingInner": 0, "paddingOuter": 0.1}, "axis": null},
                   "x": {"field": "md", "type": "quantitative", "title": null}}},
     {"transform": [{"filter": "isValid(datum.v)"}], "mark": {"type": "point", "filled": true, "size": 24, "color": "#6e6e6e", "opacity": 0.5, "stroke": "#333333", "strokeWidth": 0.6},
      "encoding": {"y": {"field": "g", "type": "ordinal", "scale": {"domain": [9,8,2,1], "paddingInner": 0, "paddingOuter": 0.1}, "axis": null},
                   "yOffset": {"field": "j", "type": "quantitative", "scale": {"domain": [-2.06, 1.55], "nice": false, "zero": false}},
                   "x": {"field": "v", "type": "quantitative", "title": null}}},
     {"data": {"values": [{"ref": 0}]}, "mark": {"type": "rect", "color": "#f03a3a"},
      "encoding": {"x": {"datum": -1.05, "type": "quantitative", "title": null}, "x2": {"datum": 1.05}}}
    ]}
  ]}
 ]
}]
}
